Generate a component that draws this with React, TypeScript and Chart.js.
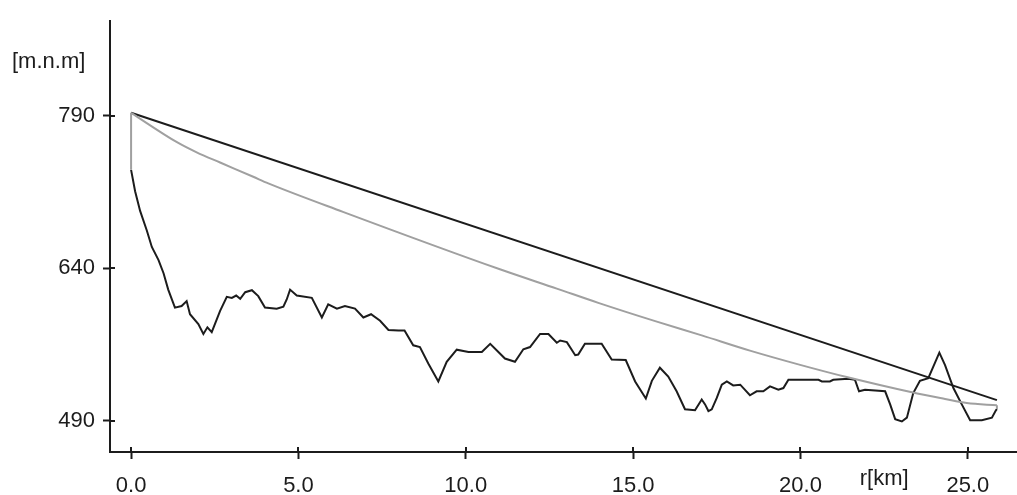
import React, { useEffect, useRef } from "react";
import { Chart, registerables } from "chart.js";

Chart.register(...registerables);

// ---- data ----
const xTicks = [0, 5, 10, 15, 20, 25];
const yTicks = [490, 640, 790];
const yTitle = "[m.n.m]";
const xTitle = "r[km]";

const profileKm = [
  0, 0.12, 0.27, 0.47, 0.62, 0.82, 0.97, 1.11, 1.31, 1.51, 1.66, 1.76, 2.01, 2.16, 2.28, 2.41,
  2.66, 2.86, 3.01, 3.14, 3.26, 3.41, 3.61, 3.8, 4.0, 4.35, 4.55, 4.65, 4.75, 4.95, 5.4, 5.7,
  5.89, 6.15, 6.39, 6.69, 6.94, 7.17, 7.44, 7.69, 7.99, 8.17, 8.43, 8.63, 8.88, 9.18, 9.43,
  9.73, 10.08, 10.48, 10.73, 11.17, 11.47, 11.72, 11.92, 12.22, 12.47, 12.72, 12.82, 13.02,
  13.27, 13.36, 13.56, 14.06, 14.36, 14.78, 15.06, 15.38, 15.56, 15.8, 16.05, 16.3, 16.55,
  16.85, 17.05, 17.15, 17.25, 17.35, 17.5, 17.65, 17.8, 17.99, 18.2, 18.49, 18.69, 18.89,
  19.09, 19.34, 19.49, 19.64, 20.54, 20.64, 20.88, 20.98, 21.43, 21.63, 21.75, 21.93, 22.53,
  22.68, 22.83, 23.03, 23.18, 23.37, 23.57, 23.82, 24.15, 24.32, 24.57, 24.82, 25.07, 25.42,
  25.72, 25.84, 25.87,
];
const profileElev = [
  736.8, 715.8, 696.4, 677.1, 661.0, 648.0, 635.1, 619.0, 601.3, 602.9, 607.7, 594.8, 585.1,
  575.4, 581.9, 577.1, 598.1, 611.9, 610.9, 613.2, 610.0, 616.5, 618.4, 612.6, 601.3, 600.3,
  602.2, 609.3, 619.0, 613.2, 610.9, 591.6, 604.5, 600.3, 602.9, 600.3, 591.6, 594.8, 588.4,
  579.3, 578.7, 578.7, 564.2, 562.5, 546.4, 528.7, 548.0, 559.9, 557.7, 557.7, 565.7, 551.2,
  548.0, 560.3, 562.5, 575.4, 575.4, 566.7, 569.0, 567.4, 554.5, 555.1, 565.7, 565.7, 550.2,
  549.7, 528.7, 511.9, 529.3, 542.2, 533.5, 519.0, 501.3, 500.3, 510.9, 506.1, 499.6, 501.3,
  512.5, 525.5, 528.7, 524.8, 525.5, 515.1, 519.0, 519.0, 523.8, 520.6, 522.2, 530.3, 530.3,
  528.7, 528.7, 530.3, 531.3, 530.3, 519.0, 520.6, 519.0, 506.1, 491.6, 489.3, 493.1, 517.3,
  529.3, 531.9, 557.0, 544.8, 522.2, 506.1, 490.6, 490.6, 493.1, 500.3, 501.5,
];

// grey reference curve
const curveKm = [
  0, 1.37, 1.96, 2.66, 3.65, 4.1, 6.33, 11.02, 12.72, 13.96, 15.66, 17.05, 18.49, 19.99, 21.38,
  23.33, 24.32, 24.97, 25.87,
];
const curveElev = [
  792.9, 764.0, 754.0, 744.0, 730.0, 723.5, 695.5, 639.0, 620.0, 606.0, 588.0, 574.0, 559.0,
  545.0, 533.0, 518.0, 511.5, 507.5, 505.2,
];
// vertical grey drops joining the curve to the ground at both ends
const dropStartKm = [0, 0];
const dropStartElev = [736.8, 792.9];
const dropEndKm = [25.87, 25.87];
const dropEndElev = [505.2, 501.5];

const chordKm = [0, 25.87];
const chordElev = [792.9, 510.3];

const FONT = "'Liberation Sans', Arial, sans-serif";
const INK = "#1c1c1c";
const GRAY = "#a0a0a0";

export default function App() {
  const ref = useRef<HTMLCanvasElement>(null);

  useEffect(() => {
    if (!ref.current) return;
    const pts = (xs: number[], ys: number[]) => xs.map((x, i) => ({ x, y: ys[i] }));

    const decor = {
      id: "decor",
      afterDraw(chart: any) {
        const { ctx, chartArea, scales } = chart;
        const xs = scales.x;
        const ys = scales.y;
        ctx.save();
        ctx.strokeStyle = INK;
        ctx.lineWidth = 2;
        ctx.beginPath();
        yTicks.forEach((v) => {
          const py = Math.round(ys.getPixelForValue(v));
          ctx.moveTo(chartArea.left, py);
          ctx.lineTo(chartArea.left + 5, py);
        });
        xTicks.forEach((v) => {
          const px = Math.round(xs.getPixelForValue(v));
          ctx.moveTo(px, chartArea.bottom);
          ctx.lineTo(px, chartArea.bottom - 5);
        });
        ctx.stroke();
        ctx.fillStyle = INK;
        ctx.font = `22px ${FONT}`;
        ctx.textBaseline = "middle";
        ctx.textAlign = "left";
        ctx.fillText(yTitle, 12, 62);
        ctx.textAlign = "center";
        ctx.fillText(xTitle, xs.getPixelForValue(22.5), 479);
        ctx.restore();
      },
    };

    const grey = (d: { x: number; y: number }[], smooth: boolean) => ({
      data: d,
      borderColor: GRAY,
      borderWidth: 2,
      pointRadius: 0,
      tension: smooth ? 0.4 : 0,
      cubicInterpolationMode: smooth ? ("monotone" as const) : ("default" as const),
    });

    const chart = new Chart(ref.current, {
      type: "line",
      data: {
        datasets: [
          grey(pts(curveKm, curveElev), true),
          grey(pts(dropStartKm, dropStartElev), false),
          grey(pts(dropEndKm, dropEndElev), false),
          {
            data: pts(chordKm, chordElev),
            borderColor: INK,
            borderWidth: 2,
            pointRadius: 0,
            tension: 0,
          },
          {
            data: pts(profileKm, profileElev),
            borderColor: INK,
            borderWidth: 2,
            pointRadius: 0,
            tension: 0,
          },
        ],
      },
      options: {
        responsive: false,
        animation: false,
        devicePixelRatio: 1,
        layout: { padding: { top: 14, right: 0, left: 0, bottom: 0 } },
        plugins: { legend: { display: false }, tooltip: { enabled: false } },
        scales: {
          x: {
            type: "linear",
            min: -0.63,
            max: 26.47,
            afterFit: (s: any) => {
              s.height = 43;
            },
            afterBuildTicks: (s: any) => {
              s.ticks = xTicks.map((v) => ({ value: v }));
            },
            grid: {
              drawOnChartArea: false,
              drawTicks: true,
              tickLength: 7,
              tickWidth: 2,
              tickColor: INK,
            },
            border: { display: true, color: INK, width: 2 },
            ticks: {
              color: INK,
              padding: 14,
              maxRotation: 0,
              autoSkip: false,
              font: { family: FONT, size: 22 },
              callback: (v: any) => Number(v).toFixed(1),
            },
          },
          y: {
            type: "linear",
            min: 459.3,
            max: 883,
            afterFit: (s: any) => {
              s.width = 110;
            },
            afterBuildTicks: (s: any) => {
              s.ticks = yTicks.map((v) => ({ value: v }));
            },
            grid: {
              drawOnChartArea: false,
              drawTicks: true,
              tickLength: 7,
              tickWidth: 2,
              tickColor: INK,
            },
            border: { display: true, color: INK, width: 2 },
            ticks: {
              color: INK,
              padding: 8,
              autoSkip: false,
              font: { family: FONT, size: 22 },
              callback: (v: any) => String(v),
            },
          },
        },
      },
      plugins: [decor],
    });
    return () => chart.destroy();
  }, []);

  return (
    <div style={{ position: "fixed", left: 0, top: 0, width: 1017, height: 495, background: "#fff" }}>
      <canvas ref={ref} width={1017} height={495} style={{ display: "block" }} />
    </div>
  );
}
